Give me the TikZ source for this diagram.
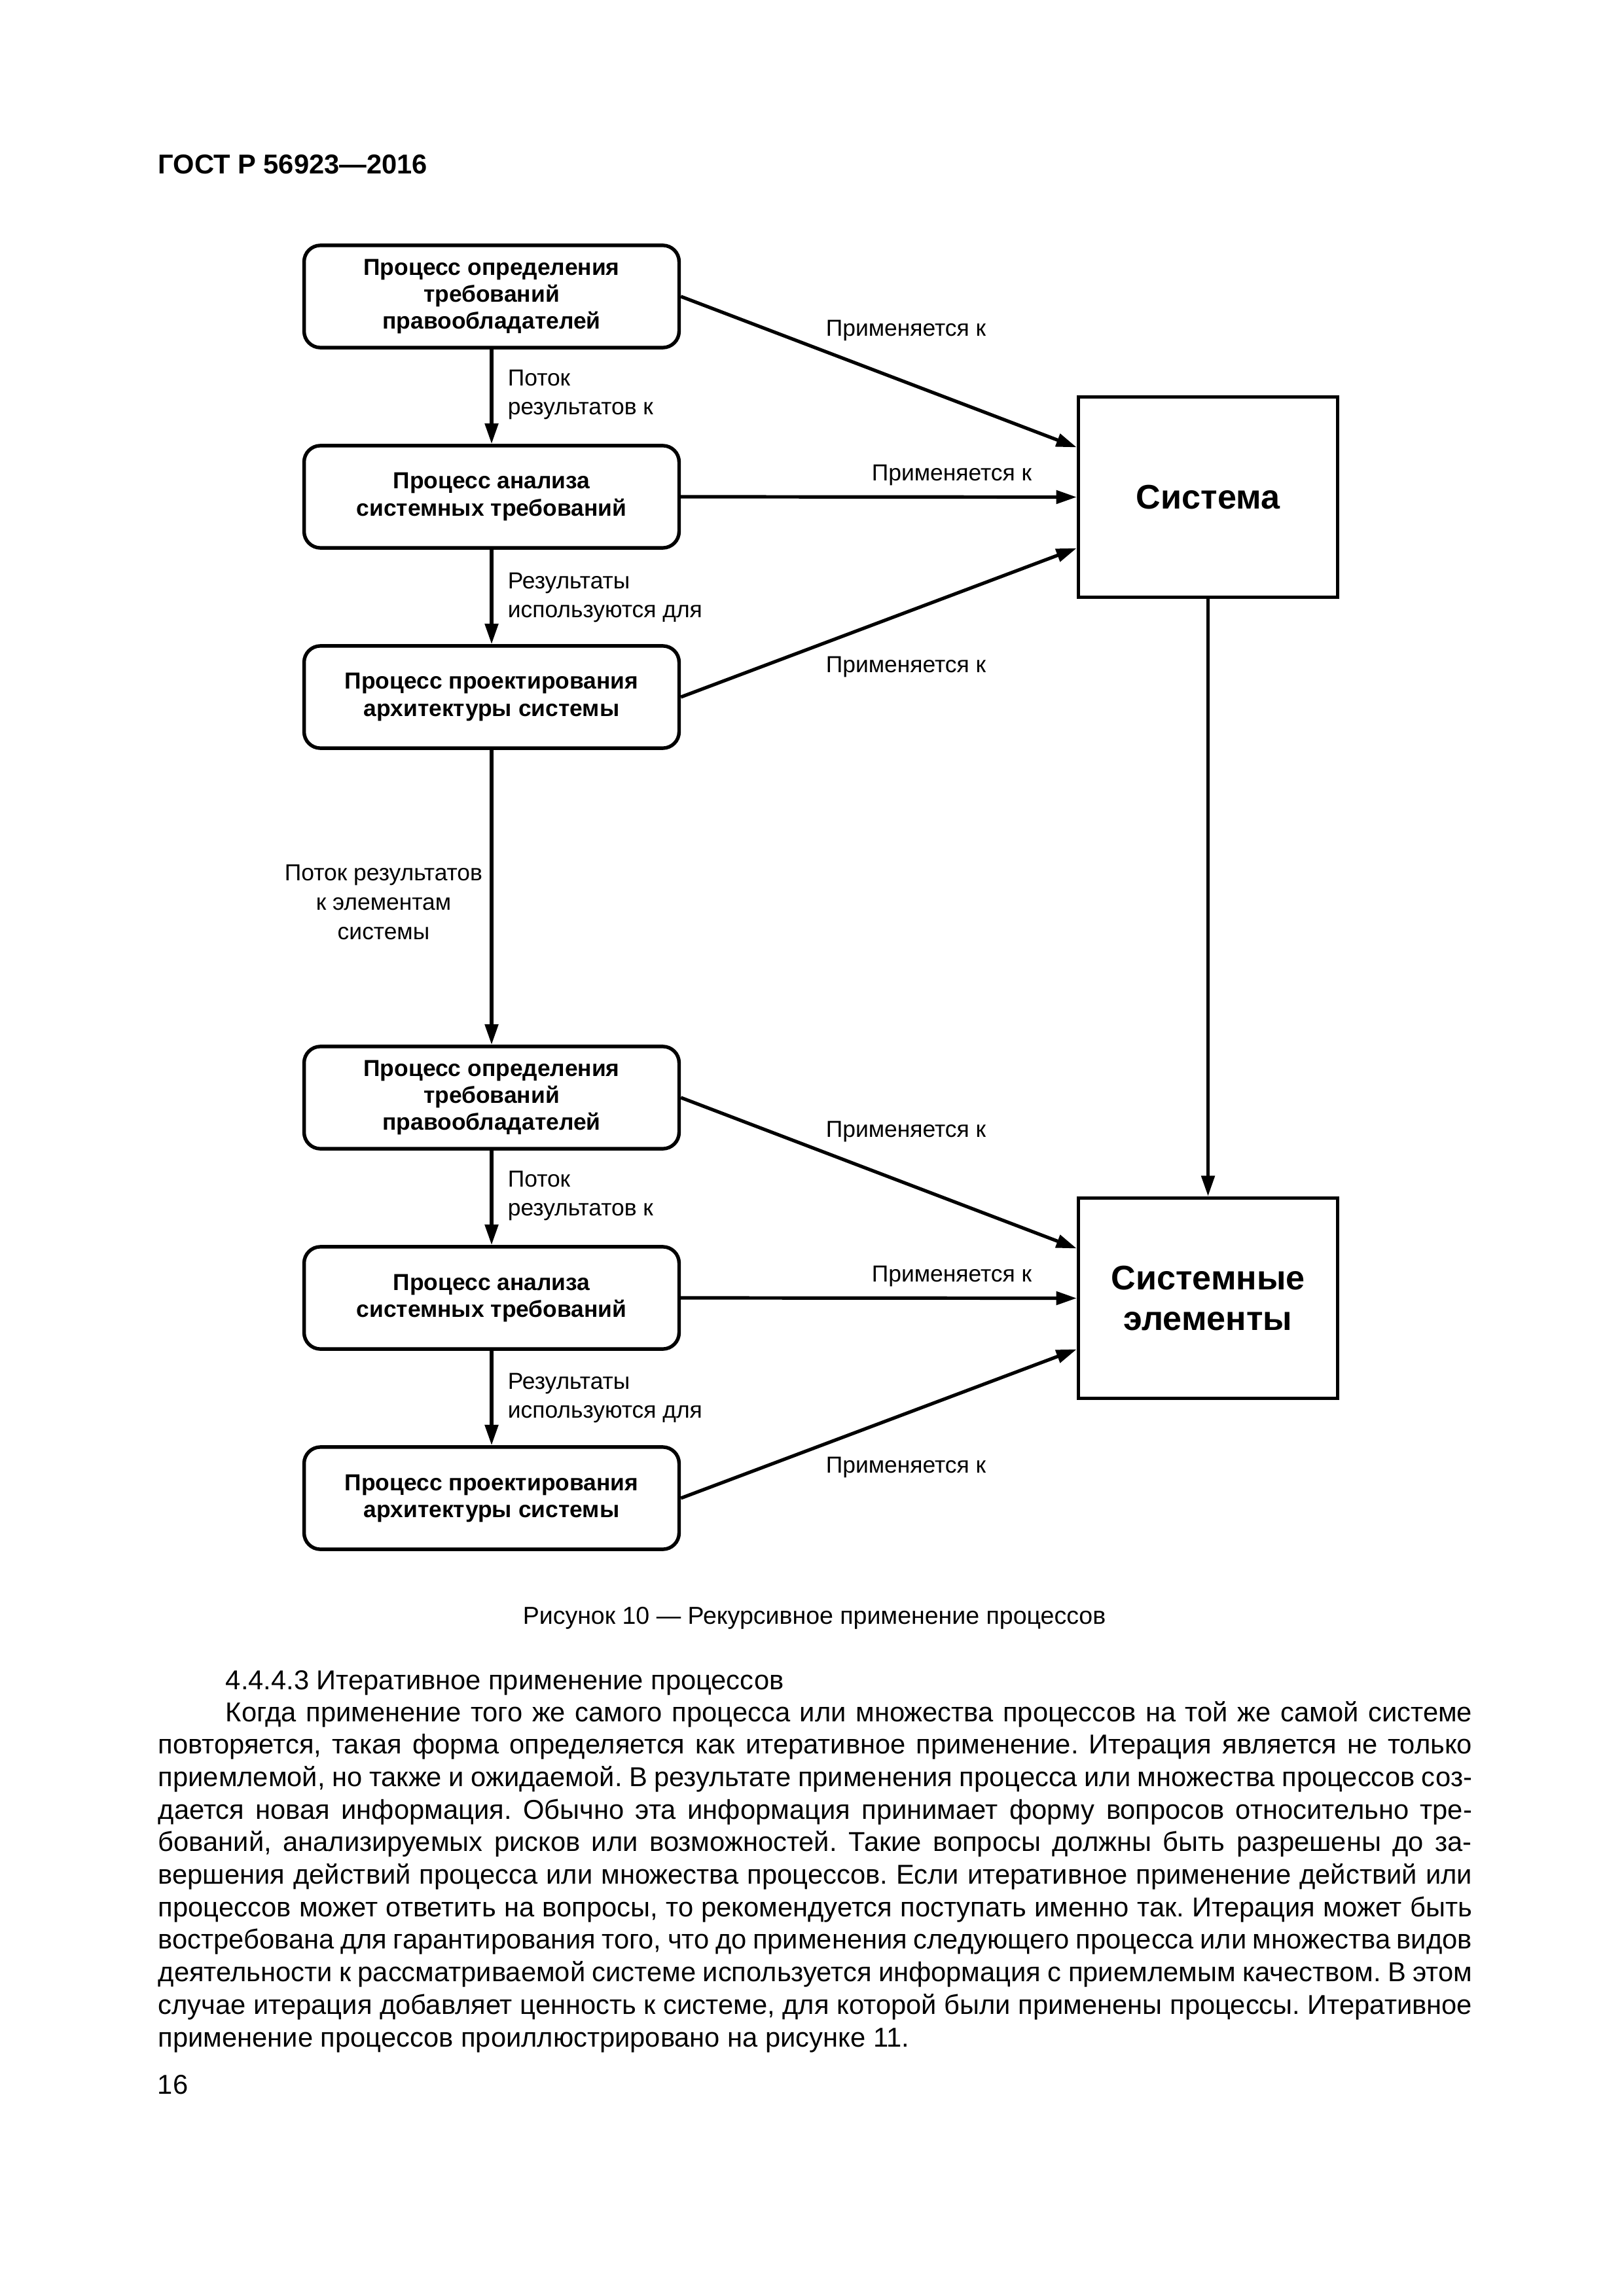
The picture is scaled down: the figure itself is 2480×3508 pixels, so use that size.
\documentclass[tikz,border=0pt]{standalone}
\usepackage{fontspec}
\setmainfont{Liberation Sans}
\usetikzlibrary{arrows.meta,calc}
\frenchspacing
\begin{document}
\begin{tikzpicture}[x=0.24pt,y=-0.24pt,
  proc/.style={draw, line width=1.3pt, rounded corners=6pt, minimum width=137.5pt, minimum height=37.5pt, align=center, inner sep=0pt, font=\fontsize{8.5}{9.85}\selectfont\bfseries},
  sysbox/.style={draw, line width=1.3pt, minimum width=95pt, minimum height=73.5pt, align=center, inner sep=0pt, font=\fontsize{12.5}{15}\selectfont\bfseries},
  lbl/.style={inner sep=0pt, font=\fontsize{8.5}{10}\selectfont},
  arr/.style={-{Triangle[length=7.5pt,width=4.8pt]}, line width=1.25pt},
  body/.style={inner sep=0pt, font=\fontsize{10}{12}\selectfont},
  capt/.style={inner sep=0pt, font=\fontsize{9}{11}\selectfont}]
\useasboundingbox (0,0) rectangle (2480,3508);
\fill[white] (0,0) rectangle (2480,3508);

% header
\node[inner sep=0pt, anchor=base west, font=\fontsize{10}{12}\selectfont\bfseries] (hdr) at (241,266) {ГОСТ Р 56923—2016};

% upper group
\node[proc] (b1) at (751,453) {Процесс определения\\требований\\правообладателей};
\node[proc] (b2) at (751,759) {Процесс анализа\\системных требований};
\node[proc] (b3) at (751,1065) {Процесс проектирования\\архитектуры системы};
\node[sysbox] (sys) at (1845.5,759.5) {Система};

% lower group
\node[proc] (b4) at (751,1677) {Процесс определения\\требований\\правообладателей};
\node[proc] (b5) at (751,1983) {Процесс анализа\\системных требований};
\node[proc] (b6) at (751,2289) {Процесс проектирования\\архитектуры системы};
\node[sysbox] (els) at (1845.5,1983.5) {Системные\\элементы};

% vertical arrows
\draw[arr] (b1) -- (b2);
\draw[arr] (b2) -- (b3);
\draw[arr] (b3) -- (b4);
\draw[arr] (b4) -- (b5);
\draw[arr] (b5) -- (b6);
\draw[arr] (sys) -- (els);

% applies-to arrows
\draw[arr] (b1.east) -- ($(sys.west)+(0,-76)$);
\draw[arr] (b2.east) -- (sys.west);
\draw[arr] (b3.east) -- ($(sys.west)+(0,78)$);
\draw[arr] (b4.east) -- ($(els.west)+(0,-76)$);
\draw[arr] (b5.east) -- (els.west);
\draw[arr] (b6.east) -- ($(els.west)+(0,78)$);

% labels
\node[lbl, anchor=base] (ap1) at (1384,514) {Применяется к};
\node[lbl, anchor=base] (ap2) at (1454,735) {Применяется к};
\node[lbl, anchor=base] (ap3) at (1384,1027) {Применяется к};
\node[lbl, anchor=base] (ap4) at (1384,1737) {Применяется к};
\node[lbl, anchor=base] (ap5) at (1454,1958) {Применяется к};
\node[lbl, anchor=base] (ap6) at (1384,2250) {Применяется к};

\node[lbl, anchor=base west] (f1a) at (775,590) {Поток};
\node[lbl, anchor=base west] (f1b) at (775,634) {результатов к};
\node[lbl, anchor=base west] (r1a) at (775,899) {Результаты};
\node[lbl, anchor=base west] (r1b) at (775,943) {используются для};
\node[lbl, anchor=base west] (f2a) at (775,1813) {Поток};
\node[lbl, anchor=base west] (f2b) at (775,1857) {результатов к};
\node[lbl, anchor=base west] (r2a) at (775,2122) {Результаты};
\node[lbl, anchor=base west] (r2b) at (775,2166) {используются для};

\node[lbl, anchor=base] (m1) at (586,1345) {Поток результатов};
\node[lbl, anchor=base] (m2) at (586,1390) {к элементам};
\node[lbl, anchor=base] (m3) at (586,1435) {системы};

% caption
\node[capt, anchor=base] (cap) at (1244,2481) {Рисунок 10 — Рекурсивное применение процессов};

% body text
\node[body, anchor=base west] (h) at (344,2581) {4.4.4.3 Итеративное применение процессов};
\node[body, anchor=base west] (t1) at (344,2630) {\makebox[457pt][s]{Когда применение того же самого процесса или множества процессов на той же самой системе}};
\node[body, anchor=base west] (t2) at (241,2679.7) {\makebox[481.7pt][s]{повторяется, такая форма определяется как итеративное применение. Итерация является не только}};
\node[body, anchor=base west] (t3) at (241,2729.4) {\makebox[481.7pt][s]{приемлемой, но также и ожидаемой. В результате применения процесса или множества процессов соз-}};
\node[body, anchor=base west] (t4) at (241,2779.1) {\makebox[481.7pt][s]{дается новая информация. Обычно эта информация принимает форму вопросов относительно тре-}};
\node[body, anchor=base west] (t5) at (241,2828.8) {\makebox[481.7pt][s]{бований, анализируемых рисков или возможностей. Такие вопросы должны быть разрешены до за-}};
\node[body, anchor=base west] (t6) at (241,2878.5) {\makebox[481.7pt][s]{вершения действий процесса или множества процессов. Если итеративное применение действий или}};
\node[body, anchor=base west] (t7) at (241,2928.2) {\makebox[481.7pt][s]{процессов может ответить на вопросы, то рекомендуется поступать именно так. Итерация может быть}};
\node[body, anchor=base west] (t8) at (241,2977.9) {\makebox[481.7pt][s]{востребована для гарантирования того, что до применения следующего процесса или множества видов}};
\node[body, anchor=base west] (t9) at (241,3027.6) {\makebox[481.7pt][s]{деятельности к рассматриваемой системе используется информация с приемлемым качеством. В этом}};
\node[body, anchor=base west] (t10) at (241,3077.3) {\makebox[481.7pt][s]{случае итерация добавляет ценность к системе, для которой были применены процессы. Итеративное}};
\node[body, anchor=base west] (t11) at (241,3127) {применение процессов проиллюстрировано на рисунке 11.};

% page number
\node[body, anchor=base west] (pg) at (240,3199) {16};
\end{tikzpicture}
\end{document}
